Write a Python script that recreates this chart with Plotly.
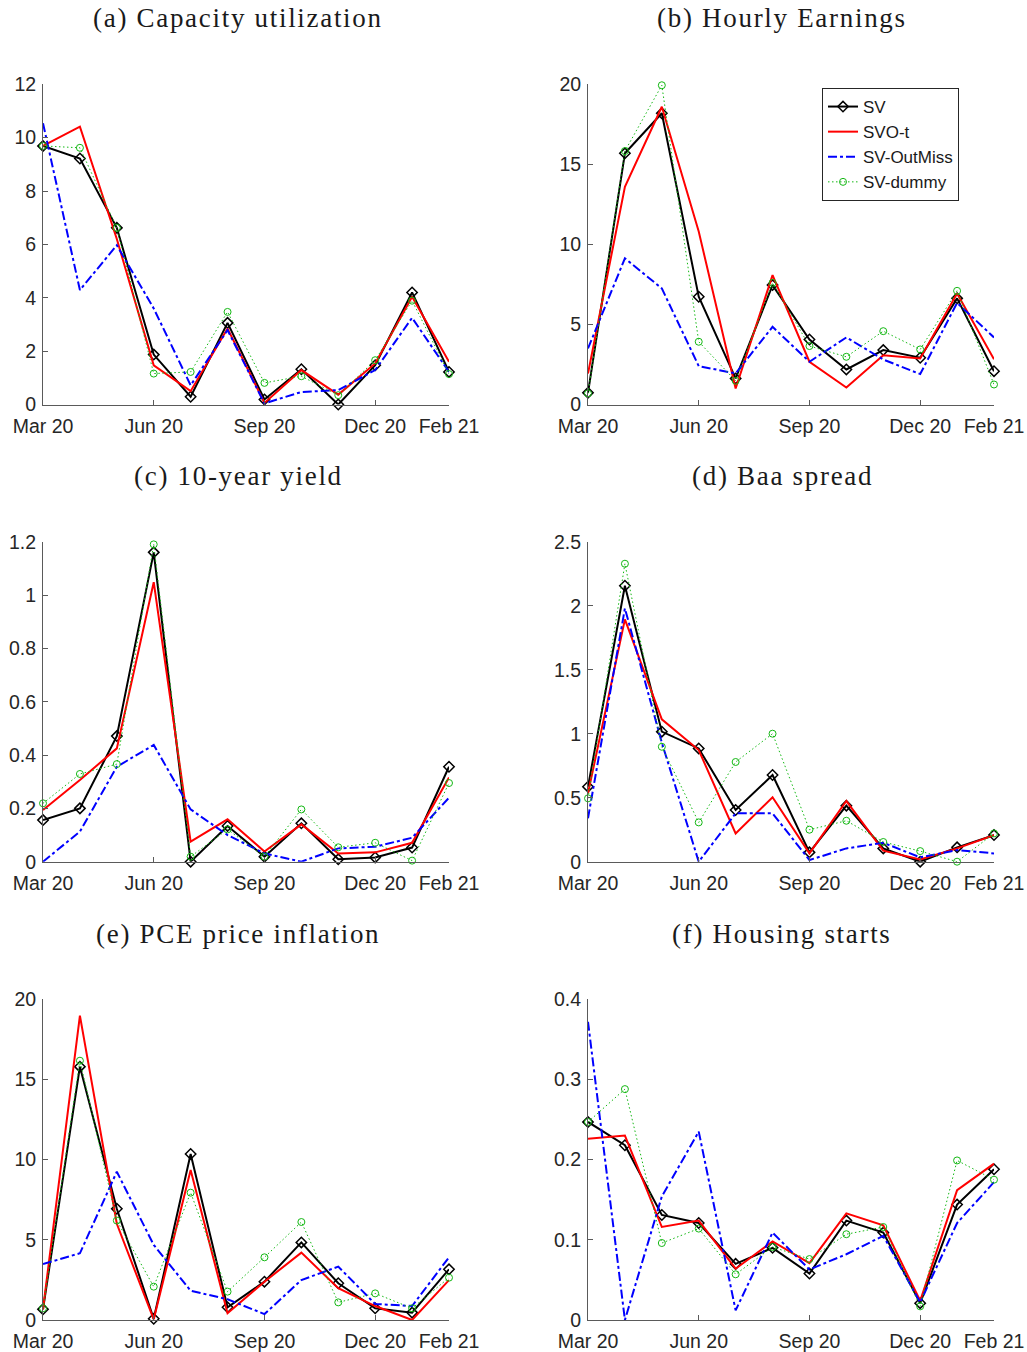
import plotly.graph_objects as go

W, H = 1027, 1352

months = ["Mar 20", "Apr 20", "May 20", "Jun 20", "Jul 20", "Aug 20",
          "Sep 20", "Oct 20", "Nov 20", "Dec 20", "Jan 21", "Feb 21"]
tick_idx = [0, 3, 6, 9, 11]

titles = ["(a) Capacity utilization", "(b) Hourly Earnings", "(c) 10-year yield",
          "(d) Baa spread", "(e) PCE price inflation", "(f) Housing starts"]

# (a) Capacity utilization
cap_sv      = [9.69, 9.22, 6.62, 1.87, 0.29, 3.06, 0.19, 1.32, 0.00, 1.47, 4.20, 1.22]
cap_svot    = [9.69, 10.41, 6.20, 1.47, 0.50, 2.85, 0.06, 1.29, 0.37, 1.54, 4.04, 1.60]
cap_outmiss = [10.54, 4.29, 5.97, 3.60, 0.72, 2.79, 0.04, 0.47, 0.54, 1.29, 3.25, 1.22]
cap_dummy   = [9.69, 9.62, 6.62, 1.16, 1.22, 3.47, 0.81, 1.06, 0.35, 1.66, 3.89, 1.14]

# (b) Hourly Earnings
hrs_sv      = [0.73, 15.69, 18.19, 6.73, 1.63, 7.46, 4.06, 2.19, 3.40, 2.92, 6.63, 2.08]
hrs_svot    = [1.94, 13.60, 18.60, 10.80, 1.00, 8.08, 2.67, 1.06, 3.08, 2.88, 6.94, 2.83]
hrs_outmiss = [3.50, 9.13, 7.25, 2.40, 1.94, 4.85, 2.67, 4.19, 2.81, 1.90, 6.35, 4.19]
hrs_dummy   = [0.69, 15.83, 19.94, 3.92, 1.48, 7.60, 3.65, 2.98, 4.58, 3.44, 7.10, 1.25]

# (c) 10-year yield
yld_sv      = [0.156, 0.200, 0.471, 1.160, 0.000, 0.134, 0.019, 0.144, 0.009, 0.016, 0.053, 0.356]
yld_svot    = [0.194, 0.306, 0.425, 1.048, 0.075, 0.159, 0.038, 0.140, 0.031, 0.035, 0.071, 0.316]
yld_outmiss = [0.000, 0.113, 0.356, 0.438, 0.196, 0.100, 0.031, 0.000, 0.050, 0.056, 0.090, 0.240]
yld_dummy   = [0.219, 0.329, 0.366, 1.190, 0.019, 0.121, 0.019, 0.196, 0.054, 0.071, 0.004, 0.295]

# (d) Baa spread
baa_sv      = [0.586, 2.156, 1.016, 0.885, 0.404, 0.677, 0.073, 0.438, 0.104, 0.000, 0.112, 0.208]
baa_svot    = [0.534, 1.893, 1.112, 0.872, 0.221, 0.503, 0.065, 0.474, 0.086, 0.018, 0.104, 0.208]
baa_outmiss = [0.339, 1.979, 0.930, 0.000, 0.378, 0.378, 0.013, 0.104, 0.148, 0.034, 0.091, 0.065]
baa_dummy   = [0.495, 2.328, 0.898, 0.307, 0.779, 1.000, 0.250, 0.320, 0.154, 0.083, 0.000, 0.221]

# (e) PCE price inflation
pce_sv      = [0.67, 15.80, 6.94, 0.08, 10.35, 0.79, 2.39, 4.84, 2.29, 0.73, 0.46, 3.16]
pce_svot    = [0.67, 18.98, 6.00, 0.04, 9.36, 0.42, 2.39, 4.20, 1.98, 0.87, 0.00, 2.49]
pce_outmiss = [3.49, 4.16, 9.25, 4.68, 1.83, 1.29, 0.37, 2.49, 3.33, 1.00, 0.87, 3.91]
pce_dummy   = [0.73, 16.17, 6.20, 2.08, 7.94, 1.77, 3.91, 6.11, 1.10, 1.66, 0.73, 2.64]

# (f) Housing starts
hst_sv      = [0.247, 0.218, 0.131, 0.121, 0.070, 0.090, 0.058, 0.124, 0.109, 0.021, 0.144, 0.188]
hst_svot    = [0.226, 0.230, 0.116, 0.124, 0.064, 0.098, 0.071, 0.133, 0.118, 0.024, 0.162, 0.195]
hst_outmiss = [0.372, 0.000, 0.154, 0.235, 0.012, 0.109, 0.063, 0.082, 0.105, 0.022, 0.121, 0.172]
hst_dummy   = [0.247, 0.288, 0.096, 0.114, 0.057, 0.091, 0.076, 0.107, 0.116, 0.017, 0.199, 0.175]

panels = [
    (cap_sv, cap_svot, cap_outmiss, cap_dummy, 12, 2),
    (hrs_sv, hrs_svot, hrs_outmiss, hrs_dummy, 20, 5),
    (yld_sv, yld_svot, yld_outmiss, yld_dummy, 1.2, 0.2),
    (baa_sv, baa_svot, baa_outmiss, baa_dummy, 2.5, 0.5),
    (pce_sv, pce_svot, pce_outmiss, pce_dummy, 20, 5),
    (hst_sv, hst_svot, hst_outmiss, hst_dummy, 0.4, 0.1),
]

series_names = ["SV", "SVO-t", "SV-OutMiss", "SV-dummy"]
GREEN = "#14b814"

# pixel geometry of plot areas
cols_px = [(43, 449), (588, 994)]
rows_px = [(84.3, 404.5), (541.7, 861.7), (999.3, 1320)]

x = list(range(len(months)))
fig = go.Figure()
axis_color = "#5a5a5a"
tick_font = dict(family="Liberation Sans, Arial, sans-serif", size=19.5, color="#262626")

for i, (sv, svot, om, dm, ymax, dt) in enumerate(panels):
    r, c = divmod(i, 2)
    xa = "x" if i == 0 else f"x{i+1}"
    ya = "y" if i == 0 else f"y{i+1}"
    show = (i == 1)
    fig.add_trace(go.Scatter(x=x, y=sv, name=series_names[0], mode="lines+markers",
                             line=dict(color="black", width=2),
                             marker=dict(symbol="diamond-open", size=8, color="black",
                                         line=dict(width=1.5)),
                             xaxis=xa, yaxis=ya, showlegend=show, cliponaxis=False))
    fig.add_trace(go.Scatter(x=x, y=svot, name=series_names[1], mode="lines",
                             line=dict(color="#ff0000", width=2),
                             xaxis=xa, yaxis=ya, showlegend=show))
    fig.add_trace(go.Scatter(x=x, y=om, name=series_names[2], mode="lines",
                             line=dict(color="#0000ff", width=2, dash="dashdot"),
                             xaxis=xa, yaxis=ya, showlegend=show))
    fig.add_trace(go.Scatter(x=x, y=dm, name=series_names[3], mode="lines+markers",
                             line=dict(color=GREEN, width=1, dash="1.5px,2.5px"),
                             marker=dict(symbol="circle-open", size=7, color=GREEN,
                                         line=dict(width=1)),
                             xaxis=xa, yaxis=ya, showlegend=show, cliponaxis=False))

    x0, x1 = cols_px[c]
    top, bot = rows_px[r]
    xkey = "xaxis" if i == 0 else f"xaxis{i+1}"
    ykey = "yaxis" if i == 0 else f"yaxis{i+1}"
    fig.layout[xkey] = dict(domain=[x0 / W, x1 / W], anchor=ya, range=[0, 11],
                            tickvals=tick_idx, ticktext=[months[k] for k in tick_idx],
                            showline=True, linecolor=axis_color, linewidth=1,
                            ticks="inside", ticklen=5, tickcolor=axis_color,
                            showgrid=False, zeroline=False, tickfont=tick_font,
                            automargin=False, ticklabelstandoff=4)
    fig.layout[ykey] = dict(domain=[(H - bot) / H, (H - top) / H], anchor=xa,
                            range=[0, ymax], dtick=dt, tick0=0,
                            showline=True, linecolor=axis_color, linewidth=1,
                            ticks="inside", ticklen=5, tickcolor=axis_color,
                            showgrid=False, zeroline=False, tickfont=tick_font,
                            automargin=False, ticklabelstandoff=2)

title_pos = [(238, 18), (782, 18), (238, 476), (782, 476), (238, 934), (782, 934)]
for t, (px, py) in zip(titles, title_pos):
    fig.add_annotation(text=f'<span style="letter-spacing:1.7px">{t}</span>',
                       x=px / W, y=(H - py) / H, xref="paper", yref="paper",
                       xanchor="center", yanchor="middle", showarrow=False,
                       font=dict(family="Liberation Serif, DejaVu Serif, serif",
                                 size=27, color="#1a1a1a"))

fig.update_layout(
    template="none",
    width=W, height=H,
    margin=dict(l=0, r=0, t=0, b=0, autoexpand=False),
    paper_bgcolor="white", plot_bgcolor="white",
    legend=dict(x=822 / W, y=(H - 88) / H, xanchor="left", yanchor="top",
                bgcolor="white", bordercolor="#262626", borderwidth=1,
                font=dict(family="Liberation Sans, Arial, sans-serif", size=17, color="#1a1a1a"),
                itemwidth=30, tracegroupgap=0),
)

fig.write_html("out.html")
